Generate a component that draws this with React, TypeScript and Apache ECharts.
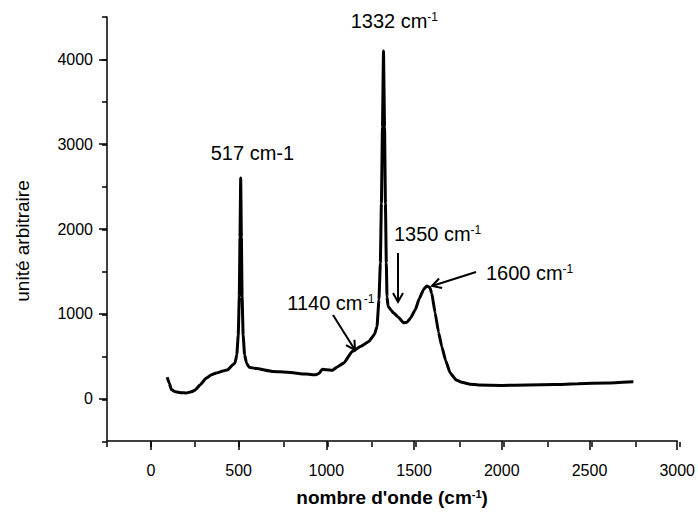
import React, { useEffect, useRef } from "react";
import * as echarts from "echarts";

// Raman spectrum
const wavenumber = [
  93, 105, 117, 140, 170, 202, 230, 250, 280, 316, 345, 373, 410, 439, 467, 480, 490,
  498, 504, 508, 512, 516, 520, 526, 534, 545, 560, 600, 694, 780, 883, 940, 960, 977,
  1000, 1034, 1060, 1100, 1148, 1200, 1242, 1275, 1289, 1300, 1308, 1314, 1320, 1326,
  1332, 1337, 1342, 1346, 1352, 1370, 1384, 1410, 1441, 1460, 1480, 1507, 1530, 1555,
  1573, 1590, 1601, 1620, 1640, 1658, 1680, 1705, 1740, 1772, 1820, 1866, 2000, 2150,
  2300, 2434, 2600, 2750,
];
const intensity = [
  251, 180, 106, 80, 70, 67, 80, 98, 160, 243, 280, 301, 325, 341, 400, 420, 520,
  750, 1200, 1900, 2600, 1900, 1200, 750, 520, 420, 370, 355, 321, 310, 289, 280, 300, 347,
  340, 333, 370, 420, 557, 620, 674, 760, 851, 1165, 1600, 2300, 3200, 4100,
  3200, 2300, 1600, 1200, 1090, 1040, 1008, 960, 894, 900, 950, 1047, 1180, 1290,
  1329, 1310, 1243, 1012, 780, 615, 450, 306, 220, 192, 170, 160, 155, 160,
  165, 176, 185, 200,
];

const xMajorTicks = [0, 500, 1000, 1500, 2000, 2500, 3000];
const yMajorTicks = [0, 1000, 2000, 3000, 4000];

const peakMain = ["1332 cm", "1350 cm", "1600 cm", "1140 cm"];
const peakSup = ["-1", "-1", "-1", "-1"];
const plainPeak = "517 cm-1";
const yTitle = "unité arbitraire";

const FONT = "'Liberation Sans', Arial, Helvetica, sans-serif";

function arrow(x1: number, y1: number, x2: number, y2: number) {
  const dx = x2 - x1;
  const dy = y2 - y1;
  const L = Math.sqrt(dx * dx + dy * dy);
  const ux = dx / L;
  const uy = dy / L;
  const nx = -uy;
  const ny = ux;
  const h = 9;
  const w = 5;
  return [
    {
      type: "line",
      shape: { x1, y1, x2, y2 },
      style: { stroke: "#000", lineWidth: 2 },
    },
    {
      type: "polyline",
      shape: {
        points: [
          [x2 - h * ux + w * nx, y2 - h * uy + w * ny],
          [x2, y2],
          [x2 - h * ux - w * nx, y2 - h * uy - w * ny],
        ],
      },
      style: { stroke: "#000", lineWidth: 2, fill: null },
    },
  ];
}

function label(main: string, sup: string, left: number, cy: number) {
  return [
    {
      type: "text",
      x: left,
      y: cy,
      style: {
        text: main,
        font: `20px ${FONT}`,
        fill: "#000",
        textAlign: "left",
        textVerticalAlign: "middle",
        align: "left",
        verticalAlign: "middle",
      },
    },
    {
      type: "text",
      x: left + 76.5,
      y: cy - 4,
      style: {
        text: sup,
        font: `12px ${FONT}`,
        fill: "#000",
        textAlign: "left",
        textVerticalAlign: "middle",
        align: "left",
        verticalAlign: "middle",
      },
    },
  ];
}

export default function App() {
  const ref = useRef<HTMLDivElement>(null);
  useEffect(() => {
    const chart = echarts.init(ref.current!, null, { renderer: "svg" });
    const data = wavenumber.map((x, i) => [x, intensity[i]]);
    const grid = { left: 107, right: 18, top: 17, bottom: 70 };
    const lineStyle = { color: "#000", width: 1.5 };
    const fmt = (v: number) => String(v);

    const graphic: any[] = [
      {
        type: "text",
        x: 22,
        y: 241,
        rotation: Math.PI / 2,
        style: {
          text: yTitle,
          font: `19px ${FONT}`,
          fill: "#000",
          textAlign: "center",
          textVerticalAlign: "middle",
          align: "center",
          verticalAlign: "middle",
        },
      },
      {
        type: "text",
        x: 210.7,
        y: 153,
        style: {
          text: plainPeak,
          font: `20px ${FONT}`,
          fill: "#000",
          textAlign: "left",
          textVerticalAlign: "middle",
          align: "left",
          verticalAlign: "middle",
        },
      },
      ...label(peakMain[0], peakSup[0], 350.7, 21),
      ...label(peakMain[1], peakSup[1], 394, 233.7),
      ...label(peakMain[2], peakSup[2], 486, 273),
      ...label(peakMain[3], peakSup[3], 287.3, 303.3),
      ...arrow(333, 315, 355, 350),
      ...arrow(398, 253, 398, 302),
      ...arrow(476, 272, 432, 286),
    ];

    chart.setOption({
      animation: false,
      backgroundColor: "#fff",
      grid: [grid, { ...grid }],
      xAxis: [
        {
          type: "value",
          gridIndex: 0,
          min: -250,
          max: 3000,
          interval: 250,
          axisLine: { show: true, onZero: false, lineStyle },
          axisTick: { show: true, length: 9, customValues: xMajorTicks, lineStyle },
          axisLabel: {
            show: true,
            customValues: xMajorTicks,
            formatter: fmt,
            margin: 21,
            fontSize: 16,
            fontFamily: FONT,
            color: "#000",
          },
          splitLine: { show: false },
          name: "nombre d'onde (cm{s|-1})",
          nameLocation: "middle",
          nameGap: 47,
          nameTextStyle: {
            fontSize: 19,
            fontWeight: "bold",
            fontFamily: FONT,
            color: "#000",
            rich: {
              s: {
                fontSize: 11,
                fontWeight: "bold",
                fontFamily: FONT,
                color: "#000",
                verticalAlign: "top",
              },
            },
          },
        },
        {
          type: "value",
          gridIndex: 1,
          min: -250,
          max: 3000,
          interval: 250,
          axisLine: { show: false, onZero: false },
          axisTick: { show: true, length: 5, lineStyle },
          axisLabel: { show: false },
          splitLine: { show: false },
        },
      ],
      yAxis: [
        {
          type: "value",
          gridIndex: 0,
          min: -500,
          max: 4500,
          interval: 500,
          axisLine: { show: true, onZero: false, lineStyle },
          axisTick: { show: true, length: 8, customValues: yMajorTicks, lineStyle },
          axisLabel: {
            show: true,
            customValues: yMajorTicks,
            formatter: fmt,
            margin: 14,
            fontSize: 16,
            fontFamily: FONT,
            color: "#000",
          },
          splitLine: { show: false },
        },
        {
          type: "value",
          gridIndex: 1,
          min: -500,
          max: 4500,
          interval: 500,
          axisLine: { show: false, onZero: false },
          axisTick: { show: true, length: 5, lineStyle },
          axisLabel: { show: false },
          splitLine: { show: false },
        },
      ],
      series: [
        {
          type: "line",
          xAxisIndex: 0,
          yAxisIndex: 0,
          data,
          showSymbol: false,
          smooth: 0.12,
          smoothMonotone: "x",
          lineStyle: { color: "#000", width: 3 },
        },
      ],
      graphic,
    });
    return () => chart.dispose();
  }, []);
  return (
    <div
      ref={ref}
      style={{ position: "absolute", left: 0, top: 0, width: 698, height: 512 }}
    />
  );
}
